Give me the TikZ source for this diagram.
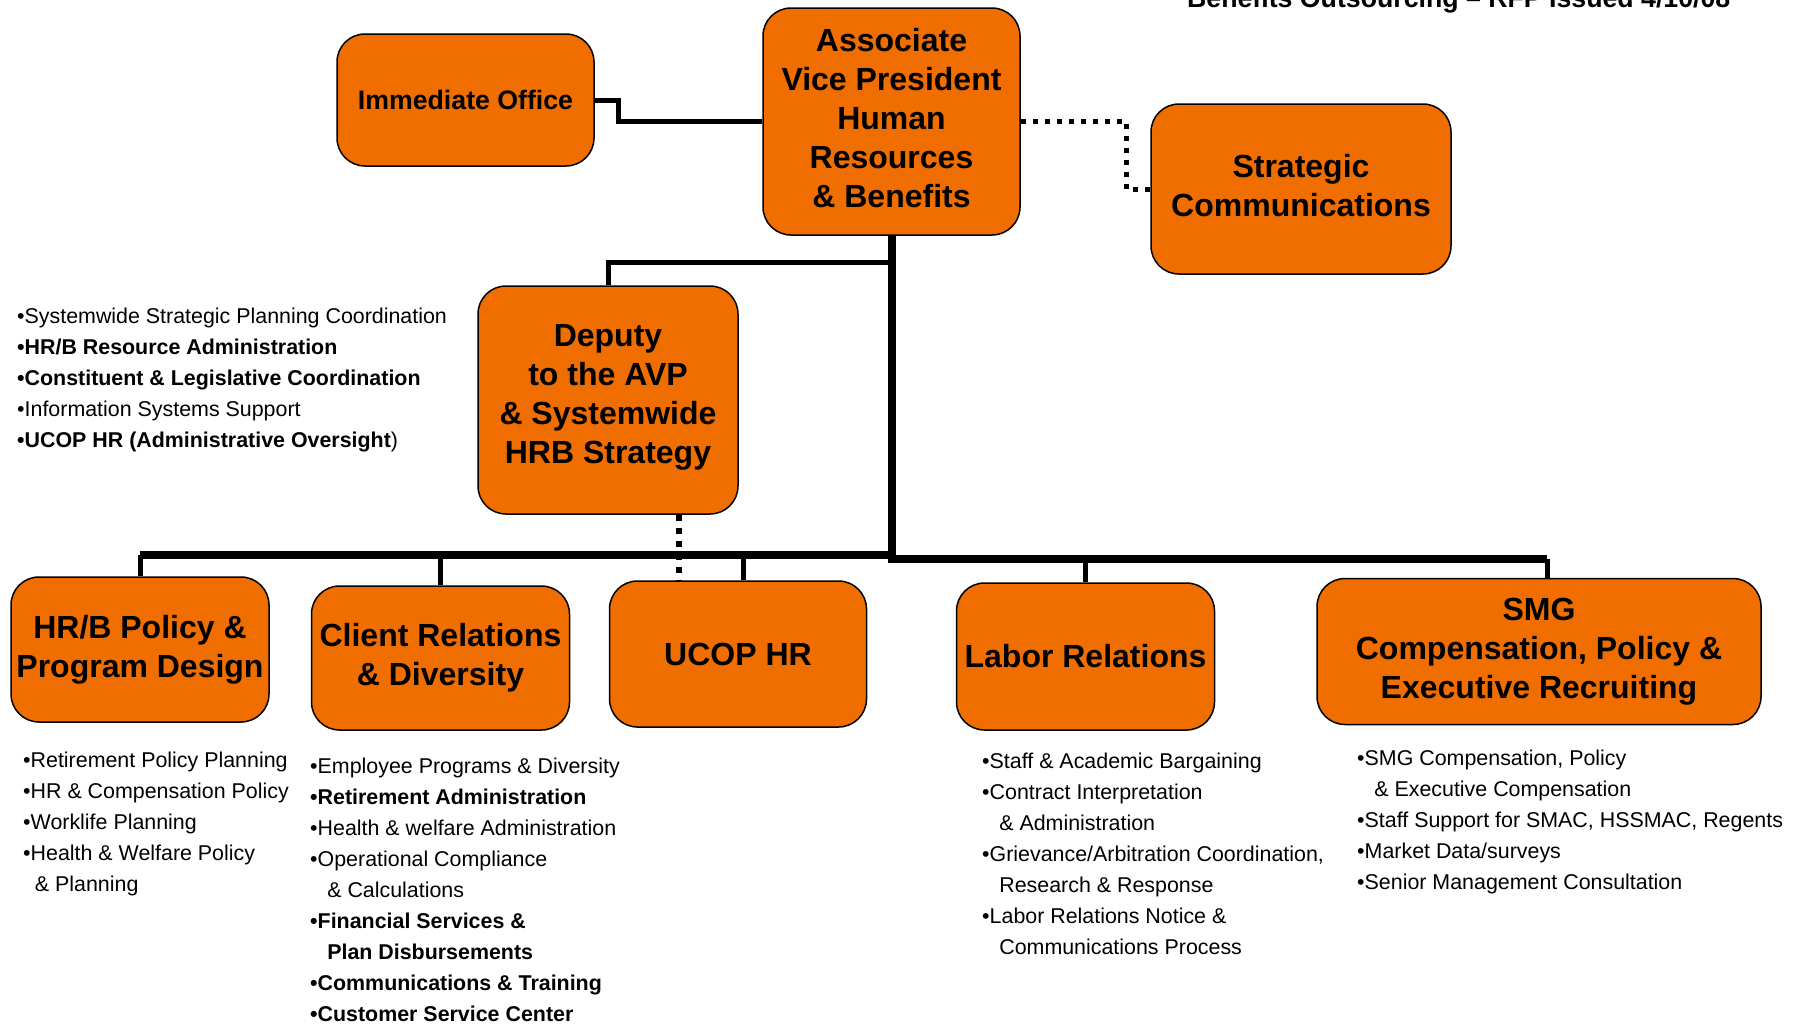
\documentclass[tikz,border=0pt]{standalone}
\usepackage{fontspec}
\setmainfont{Liberation Sans}
\usepackage{tikz}
\definecolor{hrorange}{RGB}{240,110,0}
\newcommand{\contd}{\hspace*{0.8em}}

\begin{document}
\begin{tikzpicture}[x = 1pt, y = -1pt,
    unit/.style = {draw = black, line width = 1.5pt, fill = hrorange,
      rounded corners = 28pt, inner sep = 0pt, align = center,
      minimum width = 258pt, minimum height = 146pt,
      font = \bfseries\fontsize{32}{39}\selectfont},
    link/.style = {line width = 5pt},
    trunk/.style = {line width = 8pt},
    dotlink/.style = {line width = 6pt, dash pattern = on 6pt off 7pt},
    item/.style = {anchor = base west, inner sep = 0pt,
      font = \fontsize{21.4}{31}\selectfont}]

  \useasboundingbox (0,0) rectangle (1803,1023);

  % title, cut by the top edge
  \node[anchor = base west, inner sep = 0pt,
    font = \bfseries\fontsize{26.7}{32}\selectfont] (title) at (1187, 7)
    {Benefits Outsourcing – RFP Issued 4/10/08};

  % top of the chart
  \node[unit, minimum width = 257pt, minimum height = 132pt,
    font = \bfseries\fontsize{26.7}{32}\selectfont] (io) at (465.5, 100) {Immediate Office};
  \node[unit, minimum width = 257pt, minimum height = 227pt, text depth = 7pt]
    (avp) at (891.5, 121.5)
    {Associate\\Vice President\\Human\\Resources\\\& Benefits};
  \node[unit, minimum width = 300pt, minimum height = 170pt, text depth = 8pt]
    (sc) at (1301, 189) {Strategic\\Communications};
  \node[unit, minimum width = 260pt, minimum height = 228pt, text depth = 12pt]
    (dep) at (608, 400) {Deputy\\to the AVP\\\& Systemwide\\HRB Strategy};

  % units
  \node[unit, minimum height = 145pt] (hrb) at (140, 649.5) {HR/B Policy \&\\Program Design};
  \node[unit, minimum height = 144pt] (cr)  at (440.5, 658) {Client Relations\\\& Diversity};
  \node[unit, minimum width = 257pt]  (ucop) at (738, 654)  {UCOP HR};
  \node[unit, minimum height = 147pt] (lab) at (1085.5, 656.5) {Labor Relations};
  \node[unit, minimum width = 444pt]  (smg) at (1539, 651.5)
    {SMG\\Compensation, Policy \&\\Executive Recruiting};

  % connectors
  \coordinate (jdep) at (891.5, 262);
  \coordinate (busL) at (140, 555);
  \coordinate (busR) at (1547, 559);
  \coordinate (dotx) at (679, 0);
  \coordinate (ucopx) at (743, 0);

  \draw[link] (io.east) -- ++(24,0) |- (avp.west);
  \draw[dotlink, dash pattern = on 5pt off 7pt, line width = 5pt]
    (avp.east) -- ++(106,0) |- (sc.west);
  \draw[link] (jdep) -| (dep.north);
  \draw[trunk] (busL) -- (busL -| avp.south);
  \draw[trunk] (avp.south) |- (busR);
  \draw[link] (busL) -- (hrb.north);
  \draw[link] (busL -| cr.north) -- (cr.north);
  \draw[link] (busL -| ucopx) -- (ucop.north -| ucopx);
  \draw[link] (busR -| lab.north) -- (lab.north);
  \draw[link] (busR) -- (busR |- smg.north);
  \draw[dotlink] (dep.south -| dotx) -- (ucop.north -| dotx);

  % duties of the deputy
  \begin{scope}[shift = {(17, 323)}]
    \foreach \txt [count = \i from 0] in {%
      {•Systemwide Strategic Planning Coordination},
      {\textbf{•HR/B Resource Administration}},
      {\textbf{•Constituent \& Legislative Coordination}},
      {•Information Systems Support},
      {\textbf{•UCOP HR (Administrative Oversight})}}
      \node[item] (depitem\i) at (0, 31*\i) {\txt};
  \end{scope}

  % duties of the units
  \begin{scope}[shift = {(23, 767)}]
    \foreach \txt [count = \i from 0] in {%
      {•Retirement Policy Planning},
      {•HR \& Compensation Policy},
      {•Worklife Planning},
      {•Health \& Welfare Policy},
      {\hspace*{0.55em}\& Planning}}
      \node[item] (hrbitem\i) at (0, 31.1*\i) {\txt};
  \end{scope}

  \begin{scope}[shift = {(310, 773)}]
    \foreach \txt [count = \i from 0] in {%
      {•Employee Programs \& Diversity},
      {\textbf{•Retirement Administration}},
      {•Health \& welfare Administration},
      {•Operational Compliance},
      {\contd\& Calculations},
      {\textbf{•Financial Services \&}},
      {\textbf{\contd Plan Disbursements}},
      {\textbf{•Communications \& Training}},
      {\textbf{•Customer Service Center}}}
      \node[item] (critem\i) at (0, 31.1*\i) {\txt};
  \end{scope}

  \begin{scope}[shift = {(982, 768)}]
    \foreach \txt [count = \i from 0] in {%
      {•Staff \& Academic Bargaining},
      {•Contract Interpretation},
      {\contd\& Administration},
      {•Grievance/Arbitration Coordination,},
      {\contd Research \& Response},
      {•Labor Relations Notice \&},
      {\contd Communications Process}}
      \node[item] (labitem\i) at (0, 31.1*\i) {\txt};
  \end{scope}

  \begin{scope}[shift = {(1357, 765)}]
    \foreach \txt [count = \i from 0] in {%
      {•SMG Compensation, Policy},
      {\contd\& Executive Compensation},
      {•Staff Support for SMAC, HSSMAC, Regents},
      {•Market Data/surveys},
      {•Senior Management Consultation}}
      \node[item] (smgitem\i) at (0, 31.1*\i) {\txt};
  \end{scope}

\end{tikzpicture}
\end{document}
